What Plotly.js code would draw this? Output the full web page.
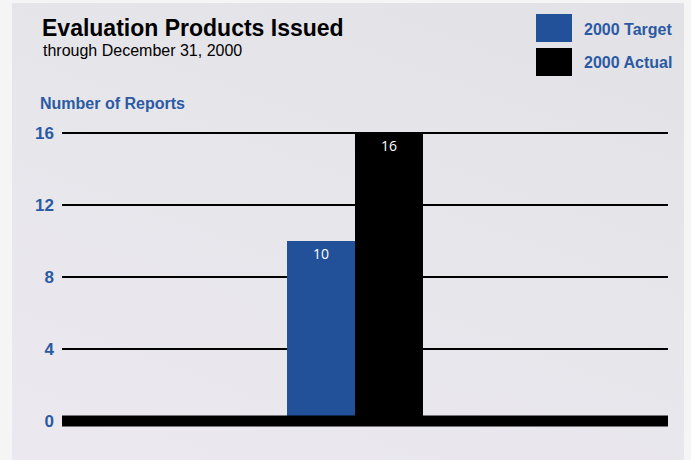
<!DOCTYPE html>
<html>
<head>
<meta charset="utf-8">
<script src="https://cdn.plot.ly/plotly-3.0.1.min.js"></script>
<style>
  html, body { margin: 0; padding: 0; background: #f5f5f6; width: 691px; height: 460px; overflow: hidden; }
  #chart { position: absolute; left: 12px; top: 3px; width: 672px; height: 457px;
           background: linear-gradient(200deg, #e2e1e5 0%, #e7e6eb 50%, #ebe9ef 100%); }
</style>
</head>
<body>
<div id="chart"></div>
<script>
// ---- data ----
const categories = ["2000"];
const seriesNames = ["2000 Target", "2000 Actual"];
const targetValues = [10];
const actualValues = [16];
const yTickValues = [0, 4, 8, 12, 16];
const yTickLabels = ["0", "4", "8", "12", "16"];
const titleText = "Evaluation Products Issued";
const subtitleText = "through December 31, 2000";
const yAxisLabel = "Number of Reports";

// ---- styling ----
const W = 672, H = 457;
const M = { l: 50, r: 16, t: 126, b: 32 };
const pw = W - M.l - M.r, ph = H - M.t - M.b;
const unitPx = 18, belowZeroPx = 7;
const blue = "#22519a";
const labelBlue = "#2b5aa3";
const sans = "'Liberation Sans', Arial, sans-serif";
const px = x => (x - M.l) / pw;          // pixel -> paper x
const py = y => 1 - (y - M.t) / ph;      // pixel -> paper y

const traces = [
  { type: "bar", name: seriesNames[0], x: categories, y: targetValues,
    marker: { color: blue, line: { width: 0 } },
    text: targetValues.map(String), textposition: "inside", insidetextanchor: "end",
    textfont: { family: "'Open Sans', sans-serif", size: 14, color: "#ffffff" },
    hoverinfo: "none" },
  { type: "bar", name: seriesNames[1], x: categories, y: actualValues,
    marker: { color: "#000000", line: { width: 0 } },
    text: actualValues.map(String), textposition: "inside", insidetextanchor: "end",
    textfont: { family: "'Open Sans', sans-serif", size: 14, color: "#ffffff" },
    hoverinfo: "none" }
];

const legendColors = [blue, "#000000"];
const shapes = [
  // thick baseline drawn above the bars
  { type: "line", xref: "paper", yref: "y", x0: 0, x1: 1, y0: 0, y1: 0,
    line: { color: "#000000", width: 11 }, layer: "above" }
];
const annotations = [
  { text: "<b>" + titleText + "</b>", xref: "paper", yref: "paper", x: px(28), y: py(10),
    xanchor: "left", yanchor: "top", showarrow: false,
    font: { family: sans, size: 23, color: "#000000" } },
  { text: subtitleText, xref: "paper", yref: "paper", x: px(29), y: py(37),
    xanchor: "left", yanchor: "top", showarrow: false,
    font: { family: sans, size: 16, color: "#000000" } },
  { text: "<b>" + yAxisLabel + "</b>", xref: "paper", yref: "paper", x: px(26), y: py(90),
    xanchor: "left", yanchor: "top", showarrow: false,
    font: { family: sans, size: 16, color: labelBlue } }
];
seriesNames.forEach((n, i) => {
  const top = 11 + i * 34;
  shapes.push({ type: "rect", xref: "paper", yref: "paper", x0: px(524), x1: px(560),
    y0: py(top + 28), y1: py(top), fillcolor: legendColors[i], line: { width: 0 } });
  annotations.push({ text: "<b>" + n + "</b>", xref: "paper", yref: "paper", x: px(570), y: py(top + 15),
    xanchor: "left", yanchor: "middle", showarrow: false,
    font: { family: sans, size: 16, color: labelBlue } });
});

const layout = {
  width: W, height: H,
  margin: M,
  paper_bgcolor: "rgba(0,0,0,0)", plot_bgcolor: "rgba(0,0,0,0)",
  barmode: "group", bargap: 0.7756, bargroupgap: 0,
  showlegend: false,
  xaxis: { type: "category", range: [-0.4835, 0.5165], showticklabels: false, ticks: "", showgrid: false,
           zeroline: false, showline: false, fixedrange: true },
  yaxis: { range: [-belowZeroPx / unitPx, (ph - belowZeroPx) / unitPx],
           tickvals: yTickValues, ticktext: yTickLabels,
           showgrid: true, gridcolor: "#000000", gridwidth: 2.5,
           zeroline: false,
           showline: false, ticks: "", ticklabelstandoff: 7,
           tickfont: { family: sans, size: 17, color: labelBlue, weight: "bold" } },
  shapes: shapes,
  annotations: annotations
};

Plotly.newPlot("chart", traces, layout, { staticPlot: true });
</script>
</body>
</html>
